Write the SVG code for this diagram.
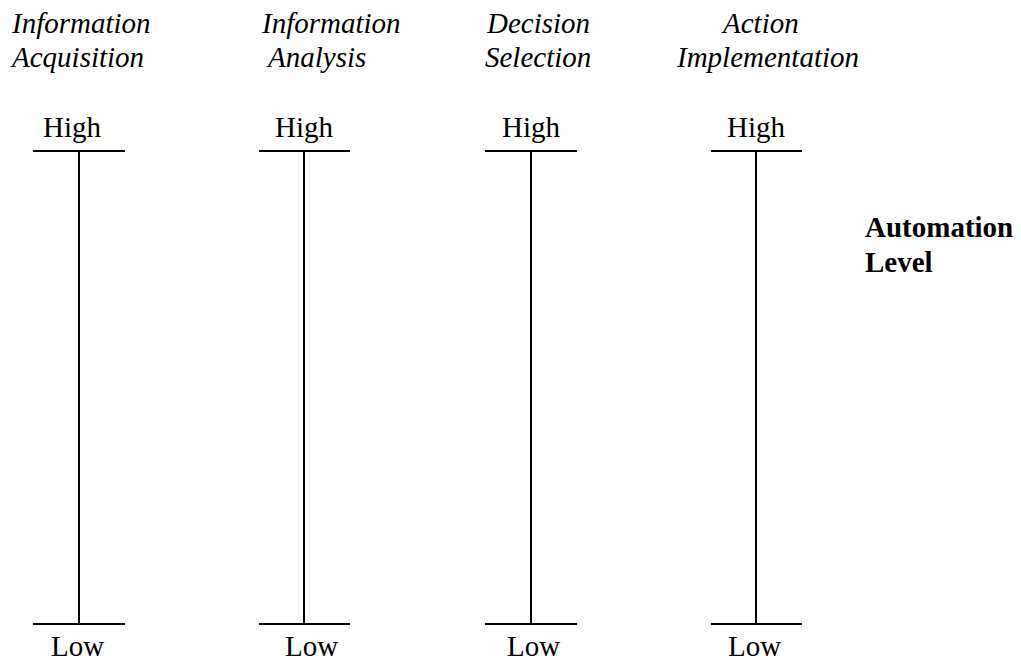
<svg xmlns="http://www.w3.org/2000/svg" width="1021" height="660" viewBox="0 0 1021 660">
<style>
.t{font-family:"Liberation Serif","Times New Roman",serif;font-size:29px;fill:#000}
.i{font-style:italic}
.b{font-weight:bold}
.ln{stroke:#000;stroke-width:2;fill:none}
</style>
<rect width="1021" height="660" fill="#fff"/>
<g id="heading-acquisition"><text class="t i" x="12" y="33">Information</text><text class="t i" x="12" y="67">Acquisition</text></g>
<g id="heading-analysis"><text class="t i" x="262" y="33">Information</text><text class="t i" x="268" y="67">Analysis</text></g>
<g id="heading-decision"><text class="t i" x="487" y="33">Decision</text><text class="t i" x="485" y="67">Selection</text></g>
<g id="heading-action"><text class="t i" x="723" y="33">Action</text><text class="t i" x="677" y="67">Implementation</text></g>
<g id="automation-level"><text class="t b" x="865" y="237">Automation</text><text class="t b" x="865" y="272">Level</text></g>
<g id="scale-1"><text class="t" x="43" y="137">High</text><text class="t" x="51" y="656">Low</text></g>
<g id="scale-2"><text class="t" x="275" y="137">High</text><text class="t" x="285" y="656">Low</text></g>
<g id="scale-3"><text class="t" x="502" y="137">High</text><text class="t" x="507" y="656">Low</text></g>
<g id="scale-4"><text class="t" x="727" y="137">High</text><text class="t" x="728" y="656">Low</text></g>
<g id="connectors">
<path class="ln" d="M33 151H125M79 151V624M33 624H125"/>
<path class="ln" d="M259 151H350M304 151V624M259 624H350"/>
<path class="ln" d="M485 151H577M531 151V624M485 624H577"/>
<path class="ln" d="M711 151H802M756 151V624M711 624H802"/>
</g>
</svg>
